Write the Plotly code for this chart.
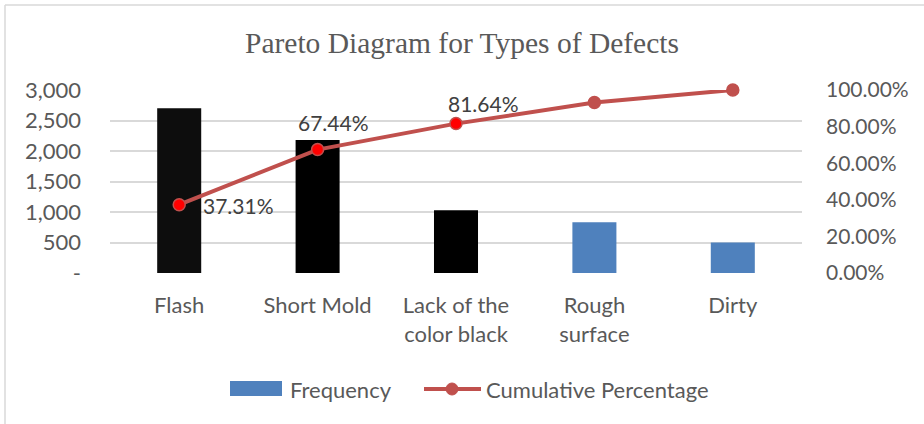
import plotly.graph_objects as go

categories = ["Flash", "Short Mold", "Lack of the<br>color black", "Rough<br>surface", "Dirty"]
frequency = [2700, 2181, 1028, 830, 498]
cumulative_pct = [37.31, 67.44, 81.64, 93.12, 100.00]
bar_colors = ["#0d0d0d", "#000000", "#000000", "#4f81bd", "#4f81bd"]
marker_colors = ["#ff0000", "#ff0000", "#ff0000", "#c0504d", "#c0504d"]
point_labels = ["37.31%", "67.44%", "81.64%"]
label_shift_x = [59, 16, 27]
label_shift_y = [-1, 27, 20]
left_ticks = [0, 500, 1000, 1500, 2000, 2500, 3000]
left_ticktext = ["-", "500", "1,000", "1,500", "2,000", "2,500", "3,000"]
right_ticks = [0, 20, 40, 60, 80, 100]
right_ticktext = ["0.00%", "20.00%", "40.00%", "60.00%", "80.00%", "100.00%"]

W, H = 924, 424
ml, mr, mt, mb = 110, 122, 90, 151
pw, ph = W - ml - mr, H - mt - mb
font_fam = "Lato, 'Open Sans', sans-serif"
grey = "#595959"
line_col = "#c0504d"


def px_x(px):
    return (px - ml) / pw


def px_y(py):
    return (H - mb - py) / ph


fig = go.Figure()
fig.add_trace(go.Bar(
    x=categories, y=frequency, name="Frequency",
    marker=dict(color=bar_colors, line=dict(width=0)),
    width=0.318, yaxis="y", showlegend=False,
))
fig.add_trace(go.Scatter(
    x=categories, y=cumulative_pct, name="Cumulative Percentage",
    mode="lines+markers", yaxis="y2", showlegend=False,
    line=dict(color=line_col, width=4),
    marker=dict(size=12, color=marker_colors, line=dict(color=line_col, width=1.5)),
    cliponaxis=False,
))

annotations = []
for i, lab in enumerate(point_labels):
    annotations.append(dict(
        x=categories[i], y=cumulative_pct[i], xref="x", yref="y2",
        text=lab, showarrow=False, xshift=label_shift_x[i], yshift=label_shift_y[i],
        font=dict(family=font_fam, size=21, color="#404040"),
    ))

# manual legend
annotations.append(dict(x=px_x(288), y=px_y(389), xref="paper", yref="paper",
                        text="Frequency", showarrow=False, xanchor="left", yanchor="middle",
                        font=dict(family=font_fam, size=22, color=grey)))
annotations.append(dict(x=px_x(484), y=px_y(389), xref="paper", yref="paper",
                        text="Cumulative Percentage", showarrow=False, xanchor="left", yanchor="middle",
                        font=dict(family=font_fam, size=22, color=grey)))

shapes = [
    dict(type="rect", xref="paper", yref="paper", x0=px_x(230), x1=px_x(282),
         y0=px_y(396), y1=px_y(381), fillcolor="#4f81bd", line=dict(width=0)),
    dict(type="line", xref="paper", yref="paper", x0=px_x(424), x1=px_x(481),
         y0=px_y(389), y1=px_y(389), line=dict(color=line_col, width=4)),
    dict(type="circle", xref="paper", yref="paper", x0=px_x(446), x1=px_x(458),
         y0=px_y(395), y1=px_y(383), fillcolor=line_col, line=dict(color=line_col, width=1)),
    dict(type="line", xref="paper", yref="paper", x0=px_x(5), x1=px_x(5),
         y0=px_y(440), y1=px_y(5), line=dict(color="#d9d9d9", width=1.5)),
    dict(type="line", xref="paper", yref="paper", x0=px_x(5), x1=px_x(940),
         y0=px_y(5), y1=px_y(5), line=dict(color="#d9d9d9", width=1.5)),
]

fig.update_layout(
    width=W, height=H,
    margin=dict(l=ml, r=mr, t=mt, b=mb),
    paper_bgcolor="white", plot_bgcolor="white",
    title=dict(text="Pareto Diagram for Types of Defects", x=0.5, xanchor="center",
               y=1 - 43 / H, yanchor="middle",
               font=dict(family="'Liberation Serif', 'Times New Roman', serif", size=29.5, color=grey)),
    xaxis=dict(showgrid=False, showline=False, ticks="", ticklabelstandoff=17,
               tickfont=dict(family=font_fam, size=22, color=grey)),
    yaxis=dict(range=[0, 3000], tickvals=left_ticks, ticktext=left_ticktext,
               showgrid=True, gridcolor="#d9d9d9", gridwidth=1.5, zeroline=False,
               showline=False, ticks="", ticklabelstandoff=28,
               tickfont=dict(family=font_fam, size=22, color=grey)),
    yaxis2=dict(range=[0, 100], overlaying="y", side="right", tickvals=right_ticks,
                ticktext=right_ticktext, showgrid=False, zeroline=False, showline=False,
                ticks="", ticklabelstandoff=23,
                tickfont=dict(family=font_fam, size=21, color=grey)),
    showlegend=False,
    annotations=annotations,
    shapes=shapes,
)

fig.write_html("out.html", config={"displayModeBar": False},
               post_script="document.body.style.margin='0';document.body.style.padding='0';")
